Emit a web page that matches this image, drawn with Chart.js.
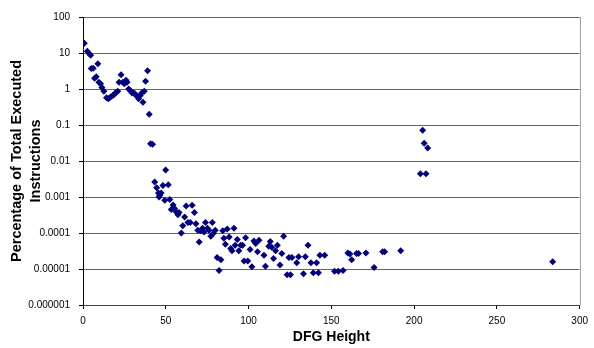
<!DOCTYPE html>
<html>
<head>
<meta charset="utf-8">
<script src="https://cdn.jsdelivr.net/npm/chart.js@4"></script>
<style>
  html, body { margin: 0; padding: 0; background: #fff; }
  #wrap { width: 594px; height: 348px; }
</style>
</head>
<body>
<div id="wrap"><canvas id="dfgChart" width="594" height="348"></canvas></div>
<script>
// DFG height vs percentage of executed instructions
const dfgHeights = [
  0.8, 2.6, 3.8, 4.6, 5.0, 6.2, 9.0, 7.0, 8.0, 9.6, 10.6, 11.4, 12.6, 14.2, 15.4,
  16.6, 18, 19, 20, 21, 21.8, 23, 24, 25, 26, 26.6, 27.6, 28.6, 29.6, 30.6, 31.4,
  32.6, 33.6, 34.6, 35.4, 36.2, 37.0, 37.8, 39, 40, 40.8, 42.0,
  43.3, 44.5, 45.6, 46.3, 47.2, 46.0, 48.3, 49.9, 49.4, 51.5, 52.4, 53.3, 54.4,
  55.3, 56.2, 57.3, 58.0, 59.4, 60.3, 61.4, 62.3, 63.4, 64.8, 65.9, 67.3, 68.2,
  69.3, 70.2, 70.9, 72.2, 73.1, 74.0, 75.2, 76.1, 77.2, 78.1, 78.8, 79.9, 81.0,
  82.2, 83.3, 84.4, 85.1, 86.0, 87.1, 88.3, 89.2, 90.0, 91.2, 91.9, 93.2, 94.1,
  95.3, 96.4, 97.3, 98.2, 99.5, 100.9, 102.0, 103.2, 104.3, 105.4, 106.3, 109.3,
  110.2, 112.2, 113.1, 114.0, 115.1, 116.3, 117.4, 119.0, 120.1, 121.2, 123.3,
  124.4, 125.3, 126.2, 129.1, 130.2, 133.2, 134.3, 135.9, 137.7, 139.1, 141.1,
  142.2, 143.1, 146.0, 151.9, 154.2, 157.1, 160.0, 161.2, 162.3, 165.2, 166.4,
  170.9, 175.8, 181.0, 182.2, 191.9, 203.8, 207.2, 205.2, 206.1, 208.2, 283.7
];
const pctExecuted = [
  18.6, 11.2, 9.5, 8.7, 3.7, 3.8, 5.0, 2.0, 2.2, 1.55, 1.4, 1.1, 0.87, 0.57, 0.54,
  0.6, 0.66, 0.71, 0.81, 0.87, 1.55, 2.5, 1.55, 1.4, 1.75, 1.55, 1.0, 0.9, 0.78, 0.78, 0.74,
  0.63, 0.54, 0.66, 0.78, 0.43, 0.87, 1.65, 3.2, 0.2, 0.03, 0.029,
  2.6e-3, 1.8e-3, 1.3e-3, 1.1e-3, 1.3e-3, 1.0e-3, 2.1e-3, 5.6e-3, 8.1e-4, 2.2e-3, 8.5e-4, 4.5e-4, 6.0e-4,
  4.8e-4, 3.9e-4, 3.2e-4, 3.7e-4, 1.0e-4, 1.6e-4, 2.8e-4, 5.6e-4, 1.95e-4, 1.95e-4, 5.9e-4, 3.7e-4, 1.8e-4,
  1.2e-4, 5.6e-5, 1.15e-4, 1.35e-4, 1.07e-4, 1.95e-4, 1.35e-4, 1.2e-4, 8.1e-5, 1.95e-4, 9.8e-5, 1.2e-4, 2.1e-5,
  9.1e-6, 1.8e-5, 1.15e-4, 7.1e-5, 4.9e-5, 1.3e-4, 7.8e-5, 3.7e-5, 3.2e-5, 1.35e-4, 4.6e-5, 6.6e-5, 3.2e-5,
  4.6e-5, 4.6e-5, 1.66e-5, 7.4e-5, 1.66e-5, 3.5e-5, 1.15e-5, 6.0e-5, 5.1e-5, 3.0e-5, 6.3e-5, 2.4e-5,
  1.2e-5, 4.3e-5, 5.8e-5, 4.0e-5, 1.95e-5, 3.2e-5, 4.6e-5, 1.3e-5, 2.7e-5, 8.1e-5, 6.9e-6,
  2.1e-5, 6.9e-6, 2.1e-5, 1.48e-5, 2.2e-5, 7.4e-6, 2.2e-5, 4.6e-5, 1.5e-5, 7.9e-6, 1.5e-5,
  7.9e-6, 2.4e-5, 2.4e-5, 8.7e-6, 8.7e-6, 9.1e-6, 2.8e-5, 2.6e-5, 1.8e-5, 2.7e-5, 2.7e-5,
  2.8e-5, 1.1e-5, 3.0e-5, 3.0e-5, 3.2e-5, 4.4e-3, 4.4e-3, 7.2e-2, 3.1e-2, 2.3e-2, 1.6e-5
];
const yTickValues = [100, 10, 1, 0.1, 0.01, 0.001, 0.0001, 0.00001, 0.000001];
const yTickLabels = ["100", "10", "1", "0.1", "0.01", "0.001", "0.0001", "0.00001", "0.000001"];
const xTickValues = [0, 50, 100, 150, 200, 250, 300];

const points = pctExecuted.map((v, i) => ({ x: dfgHeights[i], y: v }));

// right border of the plot area
const plotBorder = {
  id: "plotBorder",
  afterDraw(chart) {
    const { ctx, chartArea } = chart;
    ctx.save();
    ctx.strokeStyle = "#a0a0a0";
    ctx.lineWidth = 1;
    ctx.beginPath();
    ctx.moveTo(Math.round(chartArea.right) + 0.5, chartArea.top);
    ctx.lineTo(Math.round(chartArea.right) + 0.5, chartArea.bottom);
    ctx.stroke();
    ctx.restore();
  },
};

const font = "'Liberation Sans', Arial, sans-serif";

const ctx = document.getElementById("dfgChart").getContext("2d");
new Chart(ctx, {
  type: "scatter",
  data: {
    datasets: [
      {
        data: points,
        pointStyle: "rectRot",
        pointRadius: 3.5,
        pointHoverRadius: 3.5,
        backgroundColor: "#000080",
        borderColor: "#000080",
        borderWidth: 0,
      },
    ],
  },
  options: {
    responsive: false,
    animation: false,
    layout: { padding: { top: 17, right: 11, bottom: 0, left: 0 } },
    plugins: { legend: { display: false }, tooltip: { enabled: false } },
    scales: {
      x: {
        type: "linear",
        min: 0,
        max: 300,
        afterBuildTicks: (scale) => {
          scale.ticks = xTickValues.map((v) => ({ value: v }));
        },
        afterFit: (scale) => {
          scale.height = 43;
        },
        grid: {
          drawOnChartArea: false,
          drawTicks: true,
          tickLength: 4,
          tickColor: "#000",
        },
        border: { color: "#404040", width: 1 },
        ticks: {
          color: "#000",
          padding: 6,
          maxRotation: 0,
          font: { family: font, size: 10 },
        },
        title: {
          display: true,
          text: "DFG Height",
          color: "#000",
          padding: { top: 0, bottom: 2 },
          font: { family: font, size: 14, weight: "bold" },
        },
      },
      y: {
        type: "logarithmic",
        min: 0.000001,
        max: 100,
        afterBuildTicks: (scale) => {
          scale.ticks = yTickValues.map((v) => ({ value: v }));
        },
        afterFit: (scale) => {
          scale.width = 83;
        },
        grid: {
          color: "#666",
          lineWidth: 1,
          drawTicks: true,
          tickLength: 4,
          tickColor: "#000",
        },
        border: { color: "#000", width: 1 },
        ticks: {
          color: "#000",
          padding: 9,
          autoSkip: false,
          font: { family: font, size: 10 },
          callback: (value, index) => yTickLabels[index],
        },
        title: {
          display: true,
          text: ["Percentage of Total Executed", "Instructions"],
          color: "#000",
          padding: { top: 8, bottom: 0 },
          font: { family: font, size: 14.5, weight: "bold", lineHeight: 1.3 },
        },
      },
    },
  },
  plugins: [plotBorder],
});
</script>
</body>
</html>
